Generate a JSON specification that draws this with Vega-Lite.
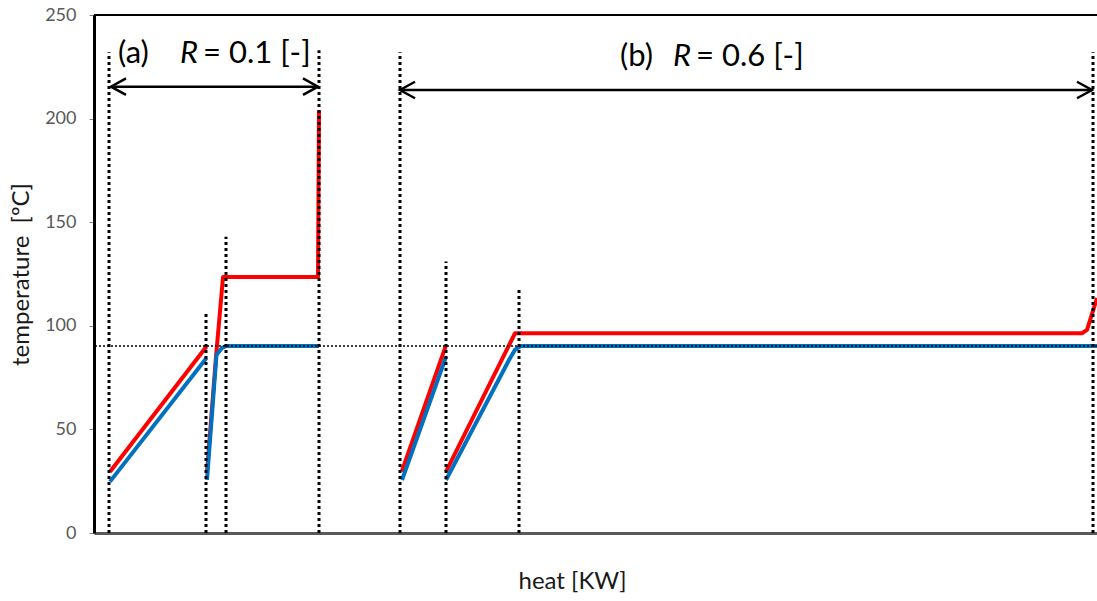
{
  "$schema": "https://vega.github.io/schema/vega-lite/v6.json",
  "width": 1003,
  "height": 518,
  "autosize": {"type": "none"},
  "padding": {"left": 94, "top": 15, "right": 0, "bottom": 68},
  "background": "white",
  "config": {
    "view": {"stroke": null},
    "font": "Lato",
    "axis": {"grid": false, "titleFont": "Lato", "labelFont": "Lato", "titleFontWeight": "normal"}
  },
  "datasets": {
    "lines": [
      {"stream": "hot", "seg": "a1", "i": 0, "x": 16, "y": 29.6},
      {"stream": "hot", "seg": "a1", "i": 1, "x": 112.5, "y": 90},
      {"stream": "cold", "seg": "a1", "i": 0, "x": 16, "y": 24.8},
      {"stream": "cold", "seg": "a1", "i": 1, "x": 112.5, "y": 84.5},
      {"stream": "hot", "seg": "a2", "i": 0, "x": 113, "y": 29.4},
      {"stream": "hot", "seg": "a2", "i": 1, "x": 122, "y": 85},
      {"stream": "hot", "seg": "a2", "i": 2, "x": 129, "y": 123.5},
      {"stream": "hot", "seg": "a2", "i": 3, "x": 224, "y": 123.5},
      {"stream": "hot", "seg": "a2", "i": 4, "x": 225, "y": 204},
      {"stream": "cold", "seg": "a2", "i": 0, "x": 113, "y": 25.6},
      {"stream": "cold", "seg": "a2", "i": 1, "x": 122.5, "y": 86},
      {"stream": "cold", "seg": "a2", "i": 2, "x": 128, "y": 89.3},
      {"stream": "cold", "seg": "a2", "i": 3, "x": 132, "y": 90.2},
      {"stream": "cold", "seg": "a2", "i": 4, "x": 225, "y": 90.2},
      {"stream": "hot", "seg": "b1", "i": 0, "x": 307.7, "y": 29.6},
      {"stream": "hot", "seg": "b1", "i": 1, "x": 351.7, "y": 90.2},
      {"stream": "cold", "seg": "b1", "i": 0, "x": 308, "y": 25.6},
      {"stream": "cold", "seg": "b1", "i": 1, "x": 352, "y": 85},
      {"stream": "hot", "seg": "b2", "i": 0, "x": 352, "y": 29.6},
      {"stream": "hot", "seg": "b2", "i": 1, "x": 421, "y": 96.4},
      {"stream": "hot", "seg": "b2", "i": 2, "x": 988, "y": 96.4},
      {"stream": "hot", "seg": "b2", "i": 3, "x": 993, "y": 98},
      {"stream": "hot", "seg": "b2", "i": 4, "x": 1003, "y": 113.4},
      {"stream": "cold", "seg": "b2", "i": 0, "x": 352, "y": 25.6},
      {"stream": "cold", "seg": "b2", "i": 1, "x": 415, "y": 83.5},
      {"stream": "cold", "seg": "b2", "i": 2, "x": 421, "y": 88.5},
      {"stream": "cold", "seg": "b2", "i": 3, "x": 427, "y": 90.2},
      {"stream": "cold", "seg": "b2", "i": 4, "x": 1003, "y": 90.2}
    ],
    "vlines": [
      {"x": 15, "top": 232, "bottom": 0},
      {"x": 112, "top": 107, "bottom": 0},
      {"x": 132, "top": 143, "bottom": 0},
      {"x": 225, "top": 233, "bottom": 0},
      {"x": 306, "top": 232, "bottom": 0},
      {"x": 352, "top": 131, "bottom": 0},
      {"x": 425, "top": 118, "bottom": 0},
      {"x": 999, "top": 232, "bottom": 0}
    ],
    "arrows": [
      {"x": 17, "x2": 224, "y": 215.4},
      {"x": 306, "x2": 998, "y": 213.8}
    ],
    "heads": [
      {"x": 17, "y": 215.4, "dir": "left"},
      {"x": 224, "y": 215.4, "dir": "right"},
      {"x": 306, "y": 213.8, "dir": "left"},
      {"x": 998, "y": 213.8, "dir": "right"}
    ],
    "labels": [
      {"x": 24, "y": 231, "text": "(a)"},
      {"x": 109, "y": 231, "text": "= 0.1 [-]"},
      {"x": 526, "y": 229.5, "text": "(b)"},
      {"x": 602, "y": 229.5, "text": "= 0.6 [-]"}
    ],
    "italic": [
      {"x": 86, "y": 231, "text": "R"},
      {"x": 579, "y": 229.5, "text": "R"}
    ],
    "top": [{"y": 250}],
    "ref": [{"y": 90.2}]
  },
  "layer": [
    {
      "data": {"name": "lines"},
      "transform": [{"filter": "datum.stream === 'hot'"}],
      "mark": {"type": "line", "strokeWidth": 4, "color": "#FF0000", "strokeJoin": "round"},
      "encoding": {
        "x": {"field": "x", "type": "quantitative", "scale": {"domain": [0, 1003], "nice": false, "zero": false},
          "axis": {"labels": false, "ticks": false, "domainColor": "#595959", "domainWidth": 3, "title": "heat [KW]", "titleFontSize": 24, "titleColor": "#1a1a1a", "titlePadding": 36, "titleX": 478}},
        "y": {"field": "y", "type": "quantitative", "scale": {"domain": [0, 250], "nice": false},
          "axis": {"values": [0, 50, 100, 150, 200, 250], "labelColor": "#595959", "labelFontSize": 18, "labelPadding": 13, "tickColor": "#808080", "tickSize": 5, "domainColor": "#000000", "domainWidth": 3, "title": "temperature\u00a0 [ºC]", "titleFontSize": 24, "titleColor": "#1a1a1a", "titlePadding": 11}},
        "detail": {"field": "seg", "type": "nominal"},
        "order": {"field": "i", "type": "quantitative"}
      }
    },
    {
      "data": {"name": "lines"},
      "transform": [{"filter": "datum.stream === 'cold'"}],
      "mark": {"type": "line", "strokeWidth": 4, "color": "#0070C0", "strokeJoin": "round"},
      "encoding": {
        "x": {"field": "x", "type": "quantitative"},
        "y": {"field": "y", "type": "quantitative"},
        "detail": {"field": "seg", "type": "nominal"},
        "order": {"field": "i", "type": "quantitative"}
      }
    },
    {
      "data": {"name": "top"},
      "mark": {"type": "rule", "color": "#000000", "strokeWidth": 2},
      "encoding": {"y": {"field": "y", "type": "quantitative"}}
    },
    {
      "data": {"name": "ref"},
      "mark": {"type": "rule", "color": "#000000", "strokeWidth": 1.5, "strokeDash": [2, 2]},
      "encoding": {"y": {"field": "y", "type": "quantitative"}}
    },
    {
      "data": {"name": "vlines"},
      "mark": {"type": "rule", "color": "#000000", "strokeWidth": 3, "strokeDash": [3, 3]},
      "encoding": {
        "x": {"field": "x", "type": "quantitative"},
        "y": {"field": "bottom", "type": "quantitative"},
        "y2": {"field": "top"}
      }
    },
    {
      "data": {"name": "arrows"},
      "mark": {"type": "rule", "color": "#000000", "strokeWidth": 2.5},
      "encoding": {
        "x": {"field": "x", "type": "quantitative"},
        "x2": {"field": "x2"},
        "y": {"field": "y", "type": "quantitative"}
      }
    },
    {
      "data": {"name": "heads"},
      "transform": [{"filter": "datum.dir === 'left'"}],
      "mark": {"type": "point", "shape": "M1,-0.55L0,0L1,0.55", "size": 900, "filled": false, "stroke": "#000000", "strokeWidth": 2.5, "opacity": 1},
      "encoding": {
        "x": {"field": "x", "type": "quantitative"},
        "y": {"field": "y", "type": "quantitative"}
      }
    },
    {
      "data": {"name": "heads"},
      "transform": [{"filter": "datum.dir === 'right'"}],
      "mark": {"type": "point", "shape": "M-1,-0.55L0,0L-1,0.55", "size": 900, "filled": false, "stroke": "#000000", "strokeWidth": 2.5, "opacity": 1},
      "encoding": {
        "x": {"field": "x", "type": "quantitative"},
        "y": {"field": "y", "type": "quantitative"}
      }
    },
    {
      "data": {"name": "labels"},
      "mark": {"type": "text", "align": "left", "baseline": "middle", "fontSize": 31, "font": "Lato", "color": "#000000"},
      "encoding": {
        "x": {"field": "x", "type": "quantitative"},
        "y": {"field": "y", "type": "quantitative"},
        "text": {"field": "text", "type": "nominal"}
      }
    },
    {
      "data": {"name": "italic"},
      "mark": {"type": "text", "align": "left", "baseline": "middle", "fontSize": 31, "font": "Lato", "fontStyle": "italic", "color": "#000000"},
      "encoding": {
        "x": {"field": "x", "type": "quantitative"},
        "y": {"field": "y", "type": "quantitative"},
        "text": {"field": "text", "type": "nominal"}
      }
    }
  ]
}
